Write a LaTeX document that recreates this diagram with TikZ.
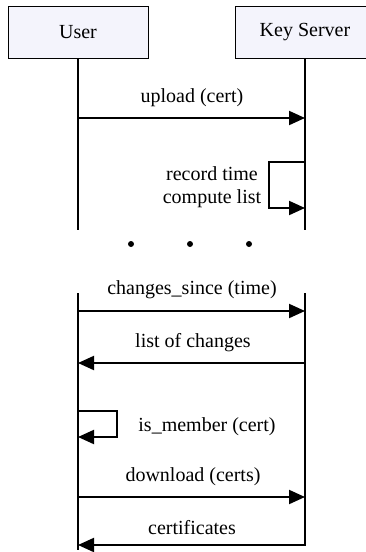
\documentclass[tikz,border=0pt]{standalone}
\usepackage{fontspec}
\setmainfont{Liberation Serif}
\usetikzlibrary{arrows.meta}
\definecolor{boxfill}{RGB}{244,244,252}
\begin{document}
\begin{tikzpicture}[x=1pt,y=-1pt,
  actor/.style={draw, line width=1pt, fill=boxfill, minimum width=140pt, minimum height=52pt, inner sep=0pt, font=\fontsize{20}{23.5}\selectfont},
  life/.style={line width=2pt},
  msg/.style={line width=2pt, -{Triangle[length=16pt,width=14pt]}},
  lbl/.style={font=\fontsize{20}{23.5}\selectfont, inner sep=0pt, align=center},
  dot/.style={circle, fill, inner sep=0pt, minimum size=6pt}]
\useasboundingbox (0,0) rectangle (366,552);
\clip (0,0) rectangle (366,552);
\node[actor] (user) at (78,32) {User};
\node[actor] (server) at (305,32) {Key Server};
% lifeline coordinates
\coordinate (ua) at (78,230);
\coordinate (sa) at (305,230);
\coordinate (ub) at (78,293);
\coordinate (sb) at (305,293);
\coordinate (uc) at (78,550);
\coordinate (sc) at (305,546);
\draw[life] (user.south) -- (ua);
\draw[life] (server.south) -- (sa);
\draw[life] (ub) -- (uc);
\draw[life] (sb) -- (sc);
% message points
\coordinate (u1) at (78,118);  \coordinate (s1) at (305,118);
\coordinate (s2a) at (305,162); \coordinate (s2b) at (305,208);
\coordinate (u3) at (78,311);  \coordinate (s3) at (305,311);
\coordinate (u4) at (78,363);  \coordinate (s4) at (305,363);
\coordinate (u5a) at (78,411); \coordinate (u5b) at (78,437);
\coordinate (u6) at (78,497);  \coordinate (s6) at (305,497);
\coordinate (u7) at (78,545);  \coordinate (s7) at (305,545);
% messages
\draw[msg] (u1) -- (s1);
\draw[msg] (s2a) -- ++(-36,0) -- ++(0,46) -- (s2b);
\draw[msg] (u3) -- (s3);
\draw[msg] (s4) -- (u4);
\draw[msg] (u5a) -- ++(39,0) -- ++(0,26) -- (u5b);
\draw[msg] (u6) -- (s6);
\draw[msg] (s7) -- (u7);
% labels
\node[lbl] (l1) at (192,98) {upload (cert)};
\node[lbl] (l2) at (212,187) {record time\\compute list};
\node[lbl] (l3) at (192,290) {changes\_since (time)};
\node[lbl] (l4) at (193,343) {list of changes};
\node[lbl] (l5) at (207,427) {is\_member (cert)};
\node[lbl] (l6) at (193,477) {download (certs)};
\node[lbl] (l7) at (192,528) {certificates};
% dots
\node[dot] (d1) at (131,244) {};
\node[dot] (d2) at (190,244) {};
\node[dot] (d3) at (249,244) {};
\end{tikzpicture}
\end{document}
